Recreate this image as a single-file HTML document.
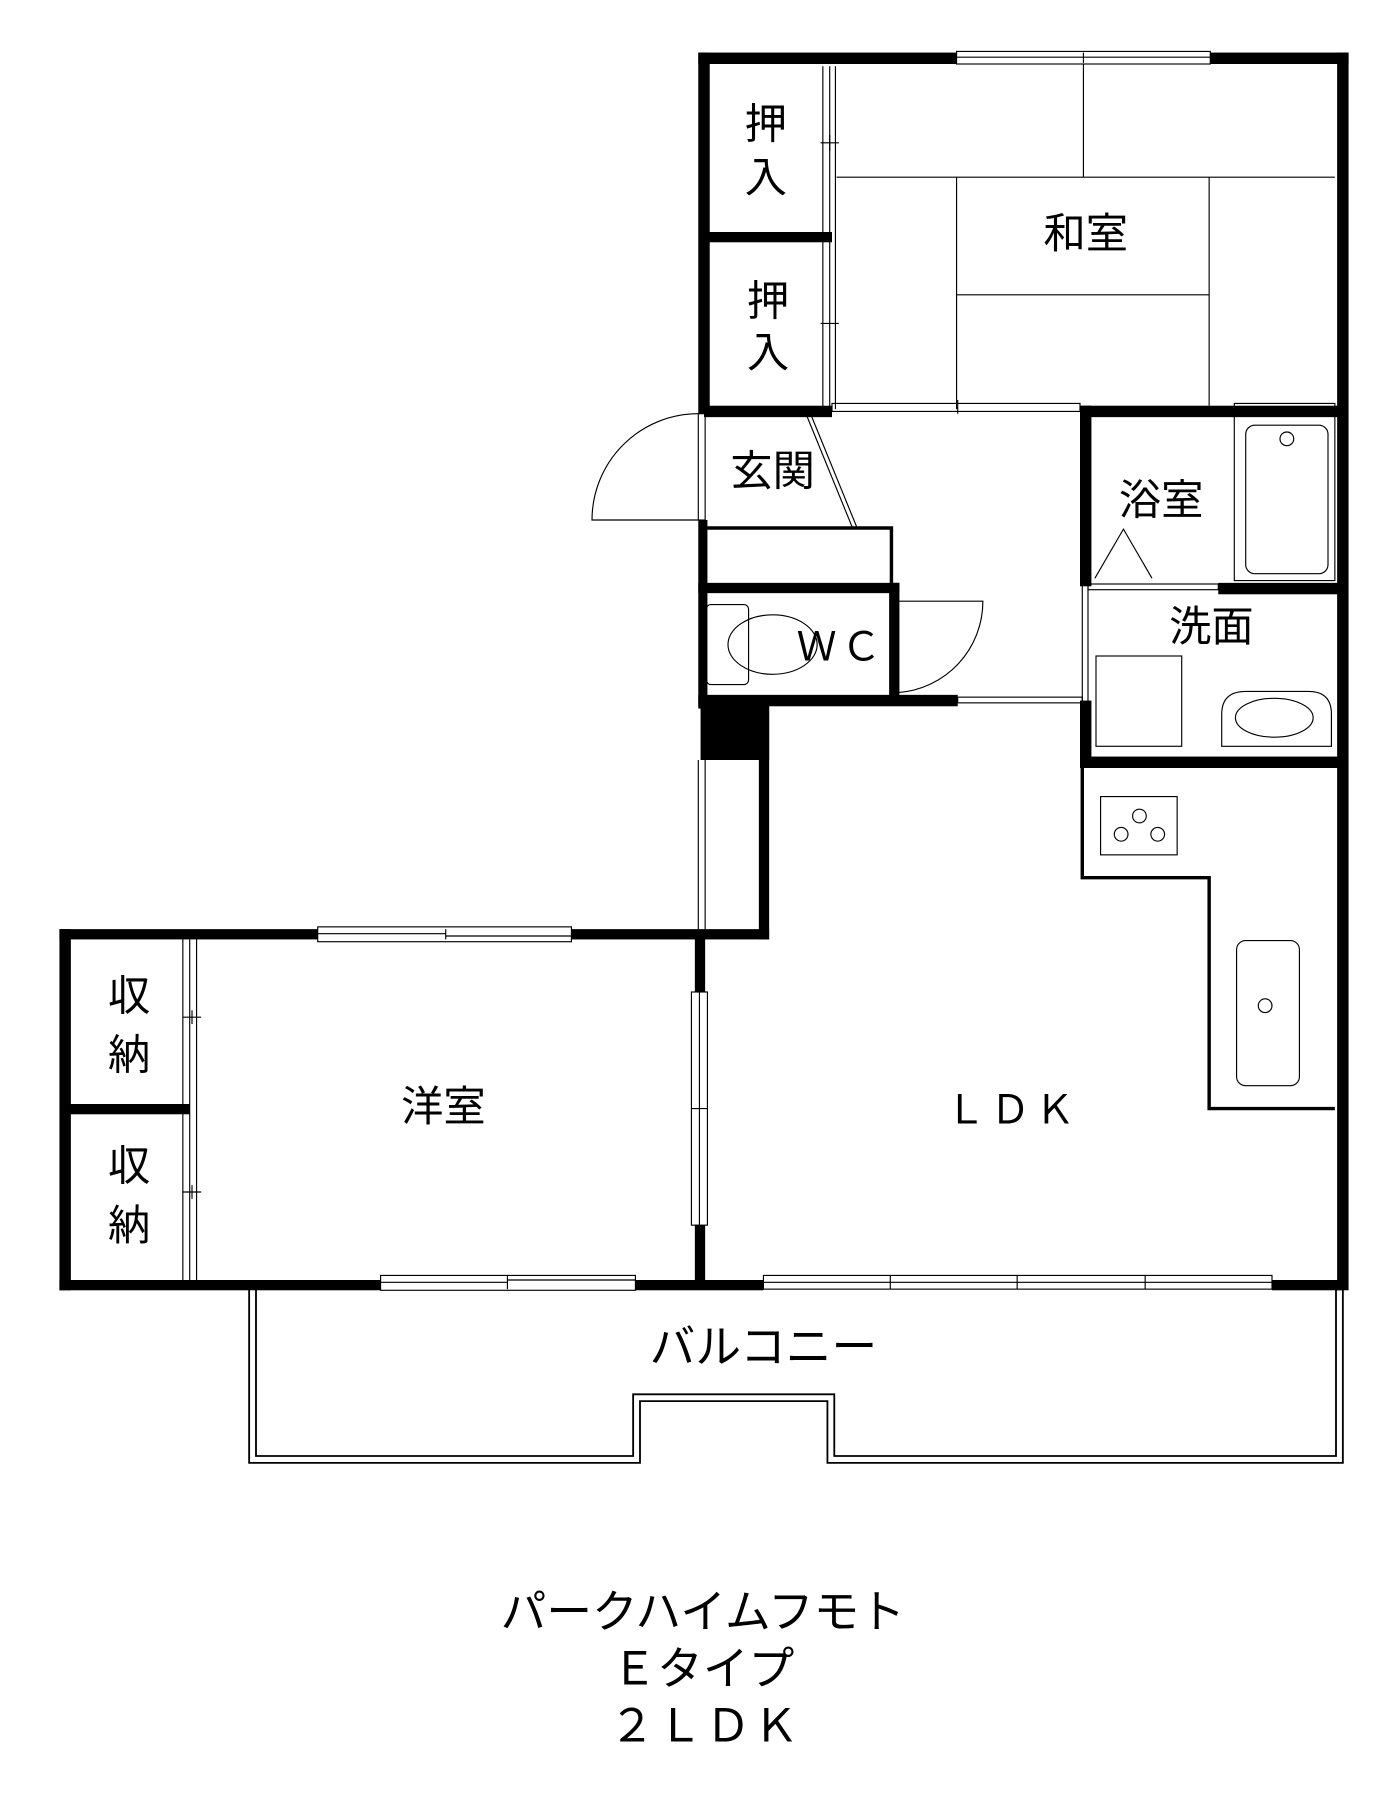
<!DOCTYPE html>
<html><head><meta charset="utf-8"><style>
html,body{margin:0;padding:0;background:#fff;}
svg{display:block}
text{font-family:"Liberation Sans","Noto Sans CJK JP",sans-serif;fill:#000;}
</style></head><body>
<svg width="1400" height="1800" viewBox="0 0 1225 1575" xmlns="http://www.w3.org/2000/svg">
<rect width="1225" height="1575" fill="#fff"/>
<g fill="none" stroke="#000" stroke-width="1">
<line x1="732" y1="155" x2="1168" y2="155"/>
<line x1="948" y1="56" x2="948" y2="155"/>
<line x1="837" y1="155" x2="837" y2="358"/>
<line x1="1058" y1="155" x2="1058" y2="355"/>
<line x1="837" y1="258" x2="1058" y2="258"/>
<line x1="720" y1="58" x2="720" y2="358"/><line x1="726" y1="58" x2="726" y2="358"/><line x1="731" y1="58" x2="731" y2="358"/>
<line x1="718" y1="125" x2="734" y2="125"/><line x1="726" y1="118" x2="726" y2="132"/>
<line x1="718" y1="283" x2="734" y2="283"/>
<rect x="837" y="45" width="222" height="11"/><line x1="837" y1="50" x2="1059" y2="50"/><line x1="948" y1="46" x2="948" y2="55"/>
<rect x="728" y="353" width="217" height="7"/><line x1="838" y1="350" x2="838" y2="362"/>
<rect x="1080" y="353" width="88" height="155"/>
<rect x="1090" y="372" width="72" height="130" rx="8"/>
<circle cx="1126" cy="384" r="6"/>
<polyline points="958,506 983,463 1008,506"/>
<rect x="952" y="511" width="114" height="5"/>
<rect x="959" y="574" width="75" height="79"/>
<path d="M1069,653 L1069,625 Q1069,605 1090,605 L1145,605 Q1165,605 1165,625 L1165,653 Z"/>
<ellipse cx="1115" cy="628" rx="34" ry="17"/>
<rect x="611" y="362" width="6" height="93"/>
<path d="M611,362 A93,93 0 0 0 518,455 L611,455"/>
<line x1="706" y1="364" x2="746" y2="462"/><line x1="710" y1="364" x2="750" y2="462"/>
<rect x="618" y="529" width="37" height="70" rx="4"/>
<ellipse cx="676" cy="564" rx="39" ry="26"/>
<line x1="786" y1="526" x2="786" y2="606"/>
<path d="M786,526 L860,526 A80,80 0 0 1 786,606"/>
<rect x="838" y="610" width="109" height="5"/>
<rect x="947" y="512" width="5" height="102"/>
<line x1="611" y1="665" x2="611" y2="815"/><line x1="617" y1="665" x2="617" y2="815"/>
<rect x="278" y="811" width="222" height="13"/><line x1="278" y1="817" x2="390" y2="817"/><line x1="390" y1="819" x2="500" y2="819"/><line x1="390" y1="813" x2="390" y2="822"/>
<line x1="160" y1="822" x2="160" y2="1120"/><line x1="166" y1="822" x2="166" y2="1120"/><line x1="172" y1="822" x2="172" y2="1120"/>
<line x1="160" y1="890" x2="176" y2="890"/><line x1="168" y1="884" x2="168" y2="896"/>
<line x1="160" y1="1043" x2="176" y2="1043"/><line x1="168" y1="1037" x2="168" y2="1049"/>
<rect x="605" y="868" width="14" height="204"/><line x1="612" y1="868" x2="612" y2="1072"/><line x1="605" y1="970" x2="619" y2="970"/>
<rect x="333" y="1116" width="223" height="13"/><line x1="333" y1="1122" x2="444" y2="1122"/><line x1="444" y1="1120" x2="556" y2="1120"/><line x1="444" y1="1116" x2="444" y2="1128"/>
<rect x="668" y="1116" width="445" height="12"/><line x1="668" y1="1122" x2="1113" y2="1122"/>
<line x1="779" y1="1116" x2="779" y2="1128"/><line x1="890" y1="1116" x2="890" y2="1128"/><line x1="1002" y1="1116" x2="1002" y2="1128"/>
<rect x="963" y="697" width="67" height="51"/>
<circle cx="997" cy="714" r="6"/><circle cx="981" cy="730" r="6"/><circle cx="1013" cy="730" r="6"/>
<rect x="1082" y="823" width="55" height="127" rx="8"/><circle cx="1107" cy="880" r="6"/>
</g>
<g fill="none" stroke="#000" stroke-width="1.6">
<path d="M218,1128 V1280 H560 V1226 H724 V1280 H1175 V1128"/>
<path d="M224,1128 V1274 H554 V1220 H730 V1274 H1169 V1128"/>
</g>
<g fill="none" stroke="#000" stroke-width="3">
<polyline points="947,670 947,768 1058,768 1058,970 1168,970"/>
<polyline points="616,462 780,462 780,510"/>
</g>
<g fill="#000">
<rect x="611" y="46" width="226" height="10"/>
<rect x="1059" y="46" width="121" height="10"/>
<rect x="611" y="46" width="10" height="316"/>
<rect x="1170" y="46" width="10" height="1083"/>
<rect x="616" y="203" width="112" height="9"/>
<rect x="616" y="355" width="112" height="10"/>
<rect x="945" y="355" width="230" height="10"/>
<rect x="945" y="355" width="10" height="158"/>
<rect x="1066" y="510" width="109" height="10"/>
<rect x="945" y="613" width="10" height="57"/>
<rect x="945" y="662" width="230" height="10"/>
<rect x="611" y="455" width="8" height="165"/>
<rect x="611" y="510" width="176" height="9"/>
<rect x="778" y="510" width="9" height="100"/>
<rect x="611" y="608" width="227" height="10"/>
<rect x="613" y="614" width="60" height="51"/>
<rect x="664" y="614" width="9" height="208"/>
<rect x="500" y="813" width="173" height="9"/>
<rect x="52" y="813" width="226" height="9"/>
<rect x="52" y="813" width="10" height="316"/>
<rect x="56" y="966" width="110" height="9"/>
<rect x="608" y="818" width="9" height="50"/>
<rect x="608" y="1072" width="9" height="52"/>
<rect x="52" y="1120" width="281" height="9"/>
<rect x="556" y="1120" width="112" height="9"/>
<rect x="1113" y="1120" width="62" height="9"/>
</g>
<g font-size="37" text-anchor="middle">
<text x="670" y="121">押</text><text x="670" y="168">入</text>
<text x="672" y="276">押</text><text x="672" y="321">入</text>
<text x="950" y="217">和室</text>
<text x="676" y="425">玄関</text>
<text x="1016" y="450">浴室</text>
<text x="1060" y="561">洗面</text>
<text x="113" y="884">収</text><text x="113" y="936">納</text>
<text x="113" y="1033">収</text><text x="113" y="1085">納</text>
<text x="388" y="981">洋室</text>
</g>
<g font-size="35" text-anchor="middle">
<text x="736" y="578" letter-spacing="4">ＷＣ</text>
<text x="886" y="983" letter-spacing="4">ＬＤＫ</text>
</g>
<g font-size="40" text-anchor="middle">
<text x="668" y="1192">バルコニー</text>
<text x="615" y="1424">パークハイムフモト</text>
<text x="615" y="1474">Ｅタイプ</text>
<text x="617" y="1524" letter-spacing="2">２ＬＤＫ</text>
</g>
</svg>
</body></html>
